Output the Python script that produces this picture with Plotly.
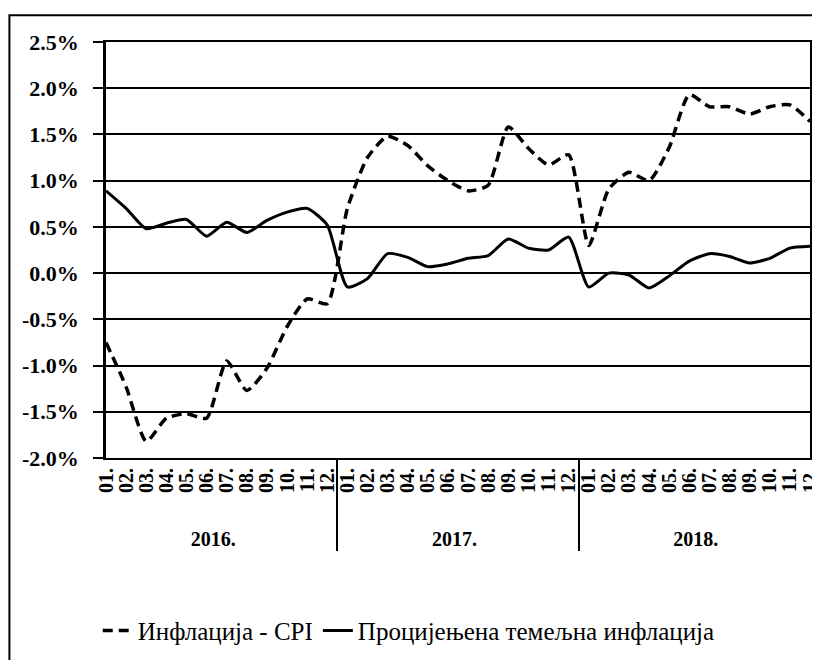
import plotly.graph_objects as go

years = ["2016."] * 12 + ["2017."] * 12 + ["2018."] * 12
months = ["01.", "02.", "03.", "04.", "05.", "06.", "07.", "08.", "09.", "10.", "11.", "12."] * 3

cpi = [-0.75, -1.23, -1.82, -1.57, -1.52, -1.57, -0.95, -1.27, -1.03, -0.58, -0.28, -0.33,
       0.70, 1.25, 1.48, 1.38, 1.16, 1.00, 0.89, 0.95, 1.58, 1.35, 1.17, 1.28,
       0.30, 0.91, 1.09, 1.00, 1.36, 1.93, 1.80, 1.80, 1.72, 1.80, 1.82, 1.64]

core = [0.89, 0.70, 0.48, 0.54, 0.58, 0.40, 0.55, 0.44, 0.57, 0.66, 0.70, 0.52,
        -0.15, -0.06, 0.21, 0.17, 0.07, 0.10, 0.16, 0.19, 0.37, 0.27, 0.25, 0.39,
        -0.15, 0.00, -0.02, -0.16, -0.03, 0.13, 0.21, 0.18, 0.11, 0.16, 0.27, 0.29]

ytick_vals = [2.5, 2.0, 1.5, 1.0, 0.5, 0.0, -0.5, -1.0, -1.5, -2.0]
ytick_text = ["2.5%", "2.0%", "1.5%", "1.0%", "0.5%", "0.0%", "-0.5%", "-1.0%", "-1.5%", "-2.0%"]

font_family = "Liberation Serif"

# leading no-break spaces lengthen the rotated month labels downward so the
# year row and its dividers sit as low as in the original
month_labels = ["\u00a0\u00a0\u00a0" + m for m in months]
x_cats = [years, month_labels]

fig = go.Figure()
fig.add_trace(go.Scatter(
    x=x_cats, y=cpi, mode="lines", name="Инфлација - CPI",
    line=dict(color="black", width=3.5, dash="10px,6px", shape="spline", smoothing=0.6),
))
fig.add_trace(go.Scatter(
    x=x_cats, y=core, mode="lines", name="Процијењена темељна инфлација",
    line=dict(color="black", width=3, shape="spline", smoothing=0.6),
))

fig.update_layout(
    width=812, height=652,
    margin=dict(l=98, r=7, t=34, b=199),
    paper_bgcolor="white", plot_bgcolor="white",
    font=dict(family=font_family, color="black", size=15),
    showlegend=True,
    legend=dict(orientation="h", x=0.43, xanchor="center", y=-0.415, yanchor="middle",
                font=dict(family=font_family, size=25, color="black"),
                tracegroupgap=0),
    xaxis=dict(
        type="multicategory",
        tickmode="linear", tick0=0, dtick=1,
        tickangle=-90,
        tickfont=dict(family=font_family, size=20, color="black", weight="bold"),
        showdividers=True, dividercolor="black", dividerwidth=1.5,
        showline=True, linecolor="black", linewidth=2, mirror=True,
        showgrid=False, ticks="",
    ),
    yaxis=dict(
        range=[-2.0, 2.5],
        tickvals=ytick_vals, ticktext=ytick_text,
        tickfont=dict(family=font_family, size=22, color="black", weight="bold"),
        showgrid=True, gridcolor="black", gridwidth=2,
        zeroline=True, zerolinecolor="black", zerolinewidth=2,
        showline=True, linecolor="black", linewidth=2.5, mirror=True,
        ticks="outside", ticklen=10, tickcolor="black", tickwidth=2,
        ticklabelstandoff=10,
    ),
    shapes=[dict(type="rect", xref="paper", yref="paper",
                 x0=-0.1372, x1=1.0071, y0=-0.6, y1=1.0644,
                 line=dict(color="black", width=2), fillcolor="rgba(0,0,0,0)", layer="below")],
)

fig.write_html("out.html")
